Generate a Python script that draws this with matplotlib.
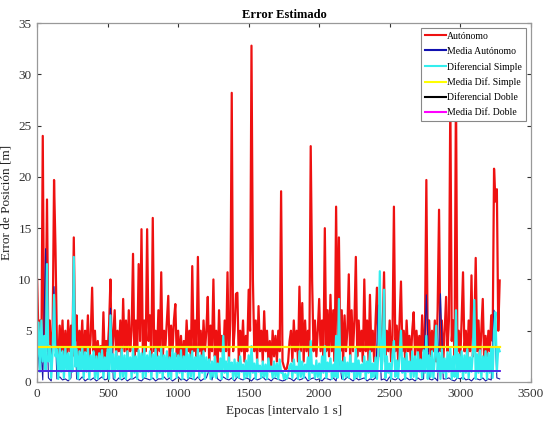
#encoding=utf-8

import numpy as np
import matplotlib
matplotlib.use("Agg")
import matplotlib.pyplot as plt
from matplotlib.lines import Line2D

# Autónomo, una muestra cada 10 epocas (0 ... 3280)
autonomo = [
    10, 4, 6, 2, 24, 3, 5, 17.8, 3, 6, 2.5, 5, 19.7, 13.2, 4, 2, 5.5, 3, 6, 2,
    5, 2, 6, 3, 5.5, 2.5, 14.1, 4, 6.5, 2, 5, 3, 6, 1.5, 5, 3, 6.5, 2, 4.5, 9.2,
    3, 5, 1.8, 4, 2.5, 3.5, 1.5, 6.8, 2, 4, 3, 5.5, 10, 2, 4.5, 7, 2.5, 5, 3, 6,
    2, 8.1, 3, 6, 2.5, 7, 3, 5, 12.5, 2, 6, 3, 11.5, 4, 14.9, 2.5, 6, 3, 14.9, 4,
    6.5, 2, 16, 3, 5, 2.5, 7, 3, 10.7, 2, 5, 3.5, 6, 8.4, 2, 5.5, 3, 6, 7.6, 2.5,
    5, 2, 4.5, 1.5, 4, 2.5, 6, 3, 5, 2, 11.3, 3, 6, 2.5, 12.2, 3, 5, 2, 6, 3,
    5, 8.3, 2, 5.5, 3, 10, 2.5, 5, 1.5, 7, 3, 4.5, 2, 6, 3, 10.7, 2, 6, 28.2, 3,
    5, 8.6, 8.7, 2, 5, 3, 6, 2, 4.5, 3, 9, 5, 32.8, 10, 3, 6, 2, 7.4, 3, 5,
    2, 6.9, 3, 5, 2, 4, 1.5, 5, 2.5, 4.5, 2, 5, 3, 18.6, 2, 1.5, 1.2, 1.3, 2, 4,
    5, 2, 6, 3, 5, 2, 9.3, 3, 7.7, 2, 6, 3, 5, 2, 23, 9.9, 3, 6, 2.5, 5,
    8.1, 3, 6, 2, 15, 3, 7, 2.5, 8.5, 3, 7, 2, 17.1, 4, 14.1, 3, 7, 2, 6.5, 3,
    5, 10.5, 2, 7, 3, 6, 12.2, 2.5, 6, 3, 5, 2, 10, 3, 6, 2, 8.5, 3, 5, 2,
    6, 9.2, 2.5, 7, 3, 5, 10.7, 2, 5, 3, 6, 2, 4.5, 17.1, 3, 5.5, 2, 6, 9.8, 3,
    5, 2, 6, 3, 4.5, 2, 5, 6.8, 2.5, 5, 3, 4.5, 2, 6.5, 3, 5, 19.7, 3, 6, 2.5,
    5, 3, 6, 2, 7, 16.8, 3, 6, 2, 5, 8.3, 3, 6, 28, 4, 6, 2.5, 29, 3, 5,
    2, 6, 10.7, 3, 5, 2, 6, 3, 10.4, 2.5, 5, 12.1, 3, 6, 2, 5, 8.1, 2, 4.5, 2.5,
    5, 3, 6.5, 4, 20.8, 17.6, 18.8, 5, 9.9,
]

# Diferencial Simple, una muestra cada 10 epocas
dif_simple = [
    2.5, 5.8, 1.0, 6.0, 2.0, 4.5, 1.2, 11.5, 2.0, 3.5, 0.4, 3.0, 8.5, 2.5, 3.2, 0.3, 3.4, 1.0, 3.0, 0.4,
    3.3, 1.2, 2.8, 0.3, 3.4, 1.0, 12.2, 1.5, 3.2, 0.3, 3.0, 1.1, 3.4, 0.4, 2.9, 1.0, 3.3, 0.3, 2.6, 1.2,
    3.0, 0.4, 2.5, 0.3, 2.8, 1.0, 3.1, 0.4, 2.4, 1.1, 3.2, 0.3, 6.5, 1.0, 2.7, 0.4, 3.0, 1.2, 2.5, 0.3,
    3.2, 0.5, 2.6, 0.3, 3.0, 1.1, 2.4, 0.4, 3.3, 0.9, 2.5, 0.3, 3.1, 1.0, 2.8, 0.4, 3.4, 0.5, 2.6, 1.0,
    3.0, 0.3, 2.7, 1.1, 3.2, 0.4, 2.5, 0.9, 3.4, 0.3, 2.6, 1.0, 3.0, 0.5, 2.4, 0.3, 3.2, 1.1, 2.8, 0.4,
    2.6, 0.9, 3.1, 0.3, 2.5, 1.0, 3.3, 0.4, 2.7, 0.5, 3.0, 0.3, 2.4, 1.1, 3.2, 0.4, 2.6, 0.9, 3.0, 0.3,
    2.4, 1.0, 2.2, 0.3, 2.0, 0.5, 2.5, 0.4, 1.8, 1.0, 2.3, 0.3, 4.5, 0.9, 2.0, 0.4, 2.4, 1.0, 1.9, 0.3,
    2.2, 0.5, 1.9, 0.4, 2.5, 1.0, 1.7, 0.3, 2.1, 0.5, 2.6, 0.4, 3.5, 0.9, 1.8, 0.3, 2.2, 1.0, 1.6, 0.4,
    2.0, 0.5, 1.7, 0.3, 2.3, 1.0, 1.5, 0.4, 2.0, 0.5, 1.8, 0.3, 2.2, 0.9, 1.0, 0.3, 0.8, 0.3, 0.7, 1.5,
    1.8, 0.4, 2.2, 0.9, 1.5, 0.3, 3.0, 0.5, 2.0, 0.4, 1.7, 1.0, 2.4, 0.3, 4.0, 0.9, 1.6, 0.4, 2.1, 0.5,
    1.8, 0.3, 2.5, 0.9, 3.5, 0.4, 1.9, 1.0, 2.3, 0.3, 1.7, 0.5, 4.5, 0.4, 8.1, 1.0, 2.0, 0.3, 2.4, 0.5,
    1.9, 0.4, 2.6, 1.0, 1.8, 0.3, 3.2, 0.5, 2.1, 0.4, 1.7, 1.0, 2.5, 0.3, 2.0, 0.9, 3.0, 0.4, 1.8, 0.5,
    2.4, 0.3, 3.0, 10.8, 1.0, 2.2, 9.0, 0.4, 2.5, 0.9, 1.8, 0.3, 2.7, 4.0, 0.5, 2.1, 0.4, 2.6, 5.0, 0.9,
    2.3, 0.3, 2.8, 1.0, 2.0, 0.4, 3.0, 0.5, 2.5, 0.3, 2.9, 1.0, 2.2, 0.4, 3.1, 0.9, 4.5, 0.3, 2.6, 0.5,
    3.0, 0.4, 2.4, 5.5, 1.0, 2.8, 0.3, 3.2, 0.9, 2.3, 0.4, 2.9, 1.0, 3.3, 0.3, 2.5, 0.5, 7.0, 0.4, 2.7,
    1.0, 3.0, 0.3, 2.6, 0.9, 3.2, 0.4, 2.4, 1.0, 2.9, 8.0, 0.3, 2.7, 0.9, 3.1, 0.4, 2.5, 1.0, 3.0, 0.3,
    2.8, 0.9, 3.3, 0.4, 5.0, 6.8, 1.0, 3.4, 3.0,
]

# Diferencial Doble, una muestra cada 20 epocas
dif_doble = [
    0.3, 5.0, 0.2, 13.0, 0.4, 0.1, 9.3, 0.3, 0.5, 0.2, 0.3, 0.1, 0.4, 10.2, 0.3, 0.2, 0.5, 0.1, 0.3, 0.2,
    0.4, 0.1, 0.3, 0.5, 0.2, 0.3, 7.2, 0.3, 0.1, 0.4, 0.2, 0.4, 0.1, 0.3, 0.3, 0.5, 0.2, 0.1, 0.4, 0.3,
    0.2, 0.4, 0.1, 0.3, 0.3, 0.5, 0.2, 0.4, 0.1, 0.3, 0.5, 0.2, 0.3, 0.1, 0.4, 0.3, 0.2, 0.5, 0.1, 0.3,
    0.4, 1.2, 0.2, 1.5, 0.3, 0.1, 0.5, 0.3, 0.2, 0.4, 0.1, 0.5, 0.3, 0.2, 0.4, 0.3, 0.1, 0.4, 0.2, 0.3,
    0.5, 0.2, 0.3, 0.1, 0.4, 0.3, 0.2, 0.1, 0.2, 0.4, 0.3, 0.1, 0.4, 0.2, 0.3, 0.5, 0.1, 0.3, 0.4, 0.2,
    0.3, 0.1, 0.4, 0.3, 0.2, 0.4, 0.1, 2.5, 0.3, 0.2, 0.5, 0.3, 0.1, 0.4, 0.2, 0.3, 0.4, 0.1, 0.3, 0.2,
    0.4, 7.5, 0.2, 0.3, 0.1, 0.5, 0.3, 0.2, 0.4, 0.1, 0.3, 0.4, 0.2, 0.3, 0.1, 0.4, 0.2, 0.3, 8.5, 0.3,
    0.2, 0.4, 0.1, 8.6, 0.3, 0.3, 0.4, 0.2, 0.1, 0.4, 0.3, 0.5, 0.2, 0.3, 0.1, 0.4, 0.3, 0.2, 0.4, 0.1,
    0.3, 0.2, 7.0, 0.4, 0.3,
]

# medias (horizontales)
media_autonomo = 1.07
media_simple = 3.45
media_doble = 1.12
fin_epocas = 3280

nombres = ["Autónomo", "Media Autónomo", "Diferencial Simple",
           "Media Dif. Simple", "Diferencial Doble", "Media Dif. Doble"]
colores = ["#ee1111", "#1010b0", "#33eeee", "#ffff00", "#000000", "#ff00ff"]


def main():
    plt.rcParams["font.family"] = ["Liberation Serif", "DejaVu Serif"]
    fig = plt.figure(figsize=(5.46, 4.28), dpi=100)
    ax = fig.add_axes([0.068, 0.1075, 0.904, 0.8385])

    x10 = np.arange(0, fin_epocas + 1, 10)
    x20 = np.arange(0, fin_epocas + 1, 20)

    ax.plot(x10, autonomo, color="#ee1111", linewidth=1.6)
    ax.plot(x20, dif_doble, color="#1a1aa0", linewidth=0.8)
    ax.plot(x10, dif_simple, color="#33eeee", linewidth=1.6)
    ax.plot([0, fin_epocas], [media_simple] * 2, color="#ffee00", linewidth=1.6)
    ax.plot([0, fin_epocas], [media_doble] * 2, color="#ff00ff", linewidth=1.2)
    ax.plot([0, fin_epocas], [media_autonomo] * 2, color="#3030e0", linewidth=1.2)

    ax.set_xlim(0, 3500)
    ax.set_ylim(0, 35)
    ax.set_xticks(np.arange(0, 3501, 500))
    ax.set_yticks(np.arange(0, 36, 5))
    ax.tick_params(direction="in", top=True, right=True, length=3,
                   labelsize=9.5, colors="#333333", pad=4)
    for s in ax.spines.values():
        s.set_color("#999999")
        s.set_linewidth(0.9)

    ax.set_title("Error Estimado", fontsize=9, fontweight="bold", pad=4)
    ax.set_xlabel("Epocas [intervalo 1 s]", fontsize=9.5, color="#222222")
    ax.set_ylabel("Error de Posición [m]", fontsize=9.5, color="#222222")

    handles = [Line2D([], [], color=c, linewidth=1.5) for c in colores]
    leg = ax.legend(handles, nombres, loc="upper right", fontsize=7,
                    fancybox=False, framealpha=1, edgecolor="#888888",
                    handlelength=2.2, handletextpad=0.1, labelspacing=0.62,
                    borderpad=0.4, borderaxespad=0.5)
    leg.get_frame().set_linewidth(0.8)

    fig.savefig("out.png", dpi=100)


if __name__ == '__main__':
    main()
